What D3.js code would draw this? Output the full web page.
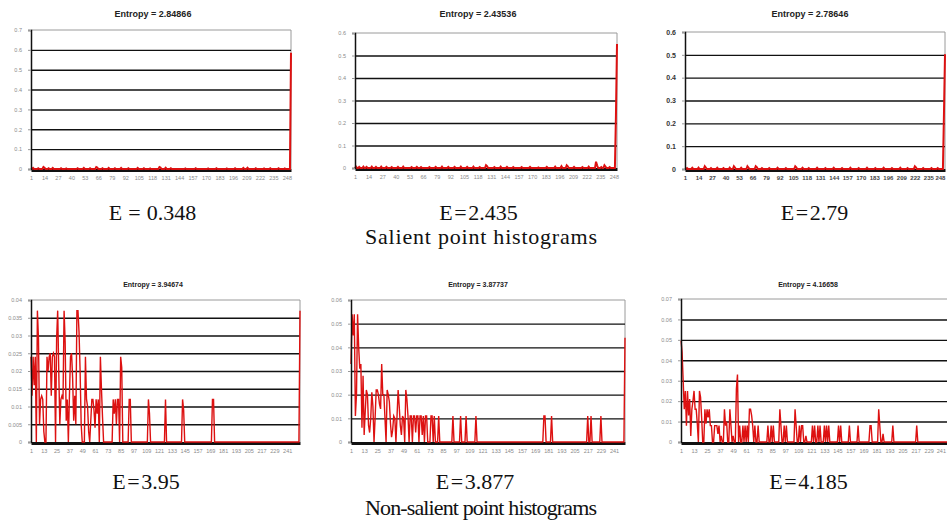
<!DOCTYPE html>
<html><head><meta charset="utf-8">
<script src="https://cdn.jsdelivr.net/npm/d3@7"></script>
<style>body{margin:0;background:#fff;} svg{display:block;}</style>
</head><body><svg id="c" width="947" height="523"></svg>
<script>
// ---------------- data ----------------
const panelTitles = ["Entropy = 2.84866", "Entropy = 2.43536", "Entropy = 2.78646",
                     "Entropy = 3.94674", "Entropy = 3.87737", "Entropy = 4.16658"];
const entropyCaptions = ["E = 0.348", "E=2.435", "E=2.79", "E=3.95", "E=3.877", "E=4.185"];
const groupCaptions = ["Salient point histograms", "Non-salient point histograms"];
const binCounts = [252, 251, 251, 253, 251, 256];

const xTicksTop = [1,14,27,40,53,66,79,92,105,118,131,144,157,170,183,196,209,222,235,248];
const xTicksBottom = [1,13,25,37,49,61,73,85,97,109,121,133,145,157,169,181,193,205,217,229,241];

const yTicks1 = [0,0.1,0.2,0.3,0.4,0.5,0.6,0.7];
const yTicks2 = [0,0.1,0.2,0.3,0.4,0.5,0.6];
const yTicks3 = [0,0.1,0.2,0.3,0.4,0.5,0.6];
const yTicks4 = [0,0.005,0.01,0.015,0.02,0.025,0.03,0.035,0.04];
const yTicks5 = [0,0.01,0.02,0.03,0.04,0.05,0.06];
const yTicks6 = [0,0.01,0.02,0.03,0.04,0.05,0.06,0.07];

// histogram values as [bin, frequency]; bins not listed read as 0
const salient1 = [[3,0.005],[8,0.004],[13,0.01],[14,0.006],[18,0.004],[22,0.005],[30,0.004],[35,0.003],[46,0.004],[52,0.005],[58,0.004],[64,0.01],[65,0.007],[70,0.004],[76,0.005],[82,0.004],[88,0.005],[95,0.004],[104,0.005],[110,0.004],[116,0.003],[125,0.01],[126,0.007],[131,0.006],[136,0.004],[150,0.003],[160,0.004],[172,0.003],[180,0.004],[190,0.003],[198,0.004],[206,0.005],[210,0.006],[218,0.004],[226,0.003],[232,0.004],[240,0.004],[246,0.003],[252,0.585]];
const salient2 = [[2,0.006],[5,0.005],[9,0.006],[12,0.005],[17,0.006],[21,0.005],[26,0.006],[31,0.005],[36,0.004],[42,0.005],[47,0.006],[55,0.004],[60,0.005],[64,0.004],[72,0.004],[78,0.005],[84,0.006],[90,0.005],[96,0.005],[102,0.006],[108,0.005],[114,0.006],[120,0.004],[126,0.012],[127,0.008],[134,0.004],[140,0.006],[146,0.005],[152,0.004],[160,0.004],[168,0.005],[176,0.003],[184,0.005],[192,0.006],[198,0.008],[203,0.012],[204,0.007],[210,0.005],[218,0.004],[224,0.006],[231,0.028],[232,0.012],[236,0.004],[239,0.012],[240,0.006],[244,0.004],[250,0.235],[251,0.551]];
const salient3 = [[3,0.004],[8,0.005],[14,0.006],[20,0.012],[21,0.006],[26,0.004],[32,0.005],[38,0.004],[44,0.006],[48,0.012],[49,0.006],[55,0.005],[61,0.012],[62,0.006],[69,0.012],[70,0.008],[75,0.004],[82,0.004],[90,0.005],[98,0.004],[107,0.012],[108,0.007],[114,0.005],[120,0.004],[128,0.005],[136,0.004],[144,0.005],[152,0.004],[160,0.005],[168,0.004],[176,0.005],[184,0.004],[192,0.005],[200,0.004],[208,0.005],[215,0.004],[222,0.012],[223,0.007],[230,0.004],[238,0.004],[244,0.004],[250,0.242],[251,0.503]];
const nonSalient1 = [[1,0.024],[2,0.013],[3,0.024],[4,0.016],[5,0.024],[7,0.037],[8,0.029],[9,0.005],[10,0.012],[11,0.013],[12,0.012],[13,0.003],[16,0.024],[17,0.02],[18,0.024],[19,0.025],[20,0.013],[21,0.024],[22,0.025],[23,0.024],[25,0.029],[26,0.037],[27,0.02],[28,0.005],[29,0.012],[30,0.013],[31,0.012],[32,0.037],[33,0.028],[34,0.006],[35,0.012],[37,0.013],[38,0.024],[39,0.025],[40,0.018],[41,0.006],[42,0.013],[43,0.005],[44,0.037],[45,0.037],[46,0.031],[47,0.02],[48,0.005],[52,0.024],[53,0.012],[54,0.01],[55,0.003],[57,0.006],[58,0.012],[59,0.012],[60,0.009],[61,0.004],[62,0.012],[63,0.008],[64,0.012],[66,0.024],[67,0.015],[68,0.007],[78,0.012],[79,0.008],[80,0.012],[81,0.005],[82,0.012],[83,0.012],[85,0.024],[86,0.021],[93,0.012],[94,0.012],[111,0.012],[112,0.008],[127,0.012],[143,0.012],[144,0.009],[171,0.012],[172,0.012],[253,0.037]];
const nonSalient2 = [[1,0.033],[2,0.054],[3,0.045],[4,0.054],[5,0.011],[6,0.02],[7,0.054],[8,0.04],[9,0.031],[10,0.033],[11,0.006],[12,0.028],[13,0.003],[14,0.013],[15,0.022],[16,0.02],[17,0.007],[18,0.004],[19,0.01],[20,0.021],[21,0.015],[23,0.01],[24,0.022],[25,0.022],[26,0.02],[27,0.016],[28,0.014],[29,0.033],[30,0.02],[31,0.02],[32,0.01],[34,0.022],[35,0.02],[36,0.017],[37,0.008],[38,0.002],[39,0.005],[40,0.011],[41,0.01],[43,0.011],[44,0.022],[45,0.015],[46,0.007],[47,0.003],[48,0.011],[49,0.01],[51,0.022],[52,0.018],[53,0.011],[55,0.011],[56,0.011],[58,0.011],[59,0.011],[60,0.004],[61,0.011],[62,0.011],[64,0.011],[65,0.011],[66,0.003],[67,0.011],[69,0.011],[70,0.011],[74,0.011],[75,0.011],[77,0.011],[81,0.011],[94,0.011],[101,0.011],[106,0.011],[115,0.011],[177,0.011],[178,0.011],[184,0.011],[217,0.011],[220,0.011],[229,0.011],[251,0.044]];
const nonSalient3 = [[1,0.05],[2,0.044],[3,0.03],[4,0.016],[5,0.025],[6,0.008],[7,0.025],[8,0.013],[9,0.021],[10,0.003],[11,0.016],[12,0.02],[13,0.025],[14,0.016],[15,0.016],[16,0.009],[18,0.025],[19,0.022],[20,0.012],[23,0.016],[24,0.009],[25,0.016],[26,0.012],[27,0.016],[28,0.008],[29,0.008],[32,0.008],[33,0.008],[34,0.008],[35,0.004],[36,0.008],[38,0.003],[41,0.016],[42,0.008],[43,0.01],[46,0.016],[47,0.008],[49,0.003],[52,0.026],[53,0.033],[55,0.008],[58,0.008],[60,0.008],[62,0.008],[64,0.016],[65,0.016],[66,0.013],[67,0.008],[69,0.008],[72,0.008],[81,0.008],[84,0.008],[86,0.008],[92,0.016],[93,0.008],[96,0.008],[98,0.008],[106,0.016],[107,0.008],[110,0.008],[112,0.008],[113,0.008],[116,0.003],[122,0.008],[124,0.008],[127,0.008],[129,0.008],[133,0.008],[135,0.008],[137,0.008],[146,0.008],[148,0.008],[156,0.008],[164,0.008],[175,0.008],[176,0.008],[183,0.016],[184,0.008],[187,0.004],[196,0.008],[218,0.008]];

// ---------------- drawing ----------------
const W = 947;
const svg = d3.select("#c");
const seriesList = [salient1, salient2, salient3, nonSalient1, nonSalient2, nonSalient3];
const yTickList = [yTicks1, yTicks2, yTicks3, yTicks4, yTicks5, yTicks6];
const frames = [
  {l:31,  t:30,  r:291, b:169, tx:153, ty:17, fs:9},
  {l:355, t:33,  r:617, b:168, tx:478, ty:17, fs:9},
  {l:685, t:32,  r:945, b:169, tx:810, ty:17, fs:9},
  {l:31,  t:300, r:300, b:442, tx:153, ty:287, fs:7},
  {l:351, t:300, r:625, b:442, tx:478, ty:287, fs:7},
  {l:681, t:299, r:958, b:442, tx:808, ty:287, fs:7}
];
const fmt = d => String(+d.toFixed(3));

frames.forEach((f, i) => {
  const n = binCounts[i];
  const lookup = new Map(seriesList[i]);
  const pts = d3.range(1, n + 1).map(b => ({bin: b, value: lookup.has(b) ? lookup.get(b) : 0}));
  const ticks = yTickList[i];
  const x = d3.scaleLinear().domain([1, n]).range([f.l, f.r]);
  const y = d3.scaleLinear().domain([0, ticks[ticks.length - 1]]).range([f.b, f.t]);
  const g = svg.append("g");
  const darkLabels = i === 2;

  // title
  g.append("text").attr("x", f.tx).attr("y", f.ty).attr("text-anchor", "middle")
    .attr("font-family", "Liberation Sans, Arial, sans-serif").attr("font-weight", "bold")
    .attr("font-size", f.fs).attr("fill", "#222").text(panelTitles[i]);

  // frame (top + right)
  g.append("path").attr("d", `M${f.l},${f.t}H${f.r}V${f.b}`).attr("fill", "none")
    .attr("stroke", "#9a9a9a").attr("stroke-width", 1);

  // gridlines
  const grid = g.append("g").attr("transform", `translate(${f.l},0)`)
    .call(d3.axisLeft(y).tickValues(ticks.slice(1, -1)).tickSize(-(f.r - f.l)).tickFormat(""));
  grid.select(".domain").remove();
  grid.selectAll(".tick line").attr("stroke", "#111").attr("stroke-width", 1.4);

  // x baseline (thick, under the data line)
  const xa = g.append("g").attr("transform", `translate(0,${f.b + 1})`)
    .call(d3.axisBottom(x).tickValues(i < 3 ? xTicksTop : xTicksBottom).tickSize(0).tickPadding(6).tickFormat(d => d));
  xa.select(".domain").attr("stroke", "#111").attr("stroke-width", 3);
  xa.selectAll("text").attr("font-size", darkLabels ? 6 : 5.5)
    .attr("font-weight", darkLabels ? "bold" : "normal")
    .attr("fill", darkLabels ? "#444" : "#8a8a8a")
    .attr("font-family", "Liberation Sans, Arial, sans-serif");
  // keep edge labels inside the picture
  xa.selectAll("text").each(function() {
    const bb = this.getBBox();
    const ctm = this.getCTM();
    const right = ctm.e + bb.x + bb.width;
    if (right > W - 1) d3.select(this).attr("dx", (W - 1 - right).toFixed(1));
  });

  // data line
  g.append("path").datum(pts)
    .attr("d", d3.line().x(d => x(d.bin)).y(d => y(d.value)))
    .attr("fill", "none").attr("stroke", "#dd1111").attr("stroke-width", i < 3 ? 2 : 1.4)
    .attr("stroke-linejoin", "miter");

  // y axis + labels
  const ya = g.append("g").attr("transform", `translate(${f.l},0)`)
    .call(d3.axisLeft(y).tickValues(ticks).tickSize(3).tickPadding(6).tickFormat(fmt));
  ya.select(".domain").attr("stroke", "#111").attr("stroke-width", 1.5);
  ya.selectAll(".tick line").attr("stroke", "#999");
  ya.selectAll("text").attr("font-size", darkLabels ? 7 : 5.5)
    .attr("font-weight", darkLabels ? "bold" : "normal")
    .attr("fill", darkLabels ? "#333" : "#8a8a8a")
    .attr("font-family", "Liberation Sans, Arial, sans-serif");
});

// captions: slight math-style spacing around "=" as in the reference's TeX setting
const capPos = [[152.5,220],[478.5,220],[814.5,220],[146,489],[475,489],[808.5,489]];
entropyCaptions.forEach((c, i) => {
  const k = c.indexOf("=");
  const spaced = c.includes(" ");
  const t = svg.append("text").attr("x", capPos[i][0]).attr("y", capPos[i][1]).attr("text-anchor", "middle")
    .attr("font-family", "Liberation Serif, Times New Roman, serif").attr("font-size", 22)
    .attr("fill", "#111");
  t.append("tspan").text(c.slice(0, k));
  t.append("tspan").attr("dx", spaced ? 0.5 : 1.5).text("=");
  t.append("tspan").attr("dx", spaced ? 0.5 : 1.5).text(c.slice(k + 1));
});
const groupPos = [[481,244,232],[481,515,232]];
groupCaptions.forEach((c, i) => {
  svg.append("text").attr("x", groupPos[i][0]).attr("y", groupPos[i][1]).attr("text-anchor", "middle")
    .attr("font-family", "Liberation Serif, Times New Roman, serif").attr("font-size", 22)
    .attr("textLength", groupPos[i][2]).attr("lengthAdjust", "spacing")
    .attr("fill", "#111").text(c);
});
</script></body></html>
